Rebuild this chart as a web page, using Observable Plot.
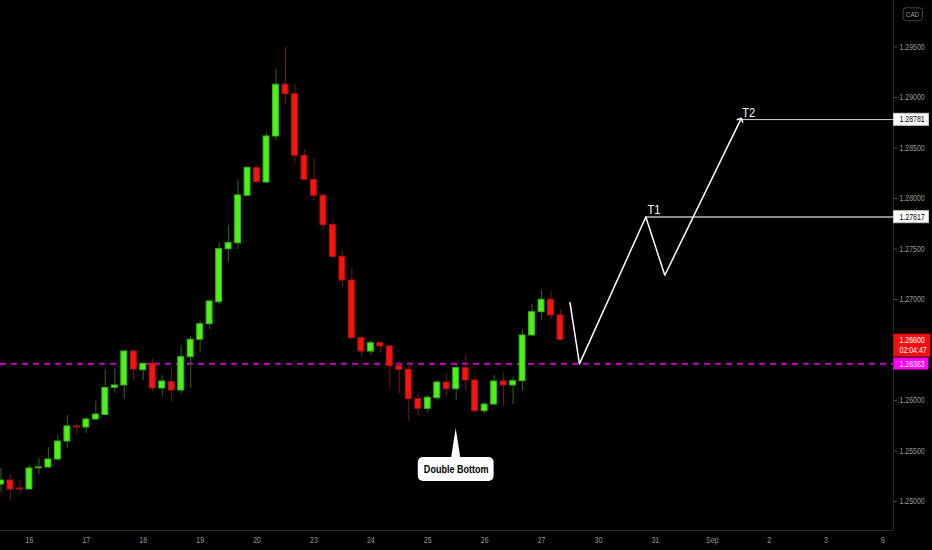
<!DOCTYPE html>
<html>
<head>
<meta charset="utf-8">
<script src="https://cdn.jsdelivr.net/npm/d3@7"></script>
<script src="https://cdn.jsdelivr.net/npm/@observablehq/plot@0.6"></script>
<style>
  html, body { margin: 0; padding: 0; background: #000; }
  #chart svg { display: block; }
</style>
</head>
<body>
<div id="chart"></div>
<script>
// ---- 4h candles, USDCAD (index 0 = first visible candle) ----
const opens = [
  1.25168,1.25208,1.25129,1.25119,1.25330,1.25337,1.25416,1.25594,1.25743,1.25733,
  1.25812,1.25856,1.26126,1.26149,1.26485,1.26300,1.26363,1.26119,1.26181,1.26099,
  1.26429,1.26601,1.26755,1.26973,1.27498,1.27557,1.28027,1.28300,1.28158,1.28614,
  1.29126,1.29033,1.28423,1.28185,1.28027,1.27736,1.27423,1.27188,1.26617,1.26485,
  1.26567,1.26535,1.26340,1.26304,1.26013,1.25918,1.26023,1.26178,1.26112,1.26320,
  1.26198,1.25894,1.25960,1.26188,1.26149,1.26191,1.26644,1.26874,1.26997,1.26842
];
const highs = [
  1.25327,1.25267,1.25208,1.25356,1.25426,1.25535,1.25653,1.25851,1.25772,1.25832,
  1.25990,1.26307,1.26307,1.26495,1.26495,1.26366,1.26419,1.26248,1.26330,1.26538,
  1.26634,1.26785,1.26997,1.27557,1.27733,1.28185,1.28310,1.28334,1.28647,1.29280,
  1.29498,1.29126,1.28475,1.28393,1.28053,1.27789,1.27475,1.27307,1.26641,1.26594,
  1.26584,1.26545,1.26379,1.26379,1.26066,1.26050,1.26198,1.26264,1.26347,1.26446,
  1.26231,1.25983,1.26248,1.26270,1.26231,1.26700,1.26957,1.27089,1.27079,1.26891
];
const lows = [
  1.25089,1.25010,1.25069,1.25114,1.25267,1.25327,1.25396,1.25525,1.25663,1.25673,
  1.25802,1.25851,1.26069,1.26010,1.26198,1.26198,1.26086,1.26040,1.25983,1.26066,
  1.26119,1.26478,1.26700,1.26950,1.27369,1.27492,1.28027,1.28151,1.28146,1.28574,
  1.28938,1.28350,1.28178,1.27980,1.27693,1.27403,1.27122,1.26594,1.26429,1.26446,
  1.26468,1.26122,1.26066,1.25792,1.25851,1.25874,1.25993,1.26033,1.26000,1.26099,
  1.25868,1.25868,1.25950,1.25941,1.25960,1.26099,1.26634,1.26792,1.26799,1.26594
];
const closes = [
  1.25208,1.25119,1.25119,1.25327,1.25337,1.25416,1.25594,1.25743,1.25733,1.25812,
  1.25861,1.26124,1.26149,1.26485,1.26307,1.26363,1.26119,1.26188,1.26099,1.26429,
  1.26601,1.26755,1.26980,1.27498,1.27557,1.28030,1.28304,1.28161,1.28614,1.29126,
  1.29033,1.28423,1.28185,1.28027,1.27736,1.27423,1.27188,1.26617,1.26485,1.26567,
  1.26535,1.26340,1.26304,1.26013,1.25918,1.26027,1.26178,1.26112,1.26320,1.26198,
  1.25894,1.25960,1.26188,1.26149,1.26191,1.26644,1.26874,1.26997,1.26842,1.26600
];

// ---- axes ----
const dayTickIndex  = [3, 9, 15, 21, 27, 33, 39, 45, 51, 57, 63, 69, 75, 81, 87, 93];
const dayTickLabels = ["16","17","18","19","20","23","24","25","26","27","30","31","Sep","2","3","6"];
// 1.26500 sits behind the last-price badge in the reference, so it is not labelled
const priceTicks = [1.25, 1.255, 1.26, 1.27, 1.275, 1.28, 1.285, 1.29, 1.295];
const xDomain = [-0.053, 94.116];
const yDomain = [1.24713, 1.29960];

// ---- annotations ----
const supportLevel = 1.26363;
const lastPrice = 1.26600;
const countdown = "02:04:47";
const targetNames  = ["T1", "T2"];
const targetIndex  = [68, 78];
const targetPrices = [1.27817, 1.28781];
const projIndex = [60, 61, 68, 70, 78];
const projPrice = [1.2697, 1.26363, 1.27817, 1.2724, 1.28781];
const calloutLabel = "Double Bottom";
const calloutIndex = 48;
const calloutPrice = 1.25723;
const currency = "CAD";

const candles = opens.map((o, i) => ({
  i, open: o, high: highs[i], low: lows[i], close: closes[i], up: closes[i] >= o
}));
const targets = targetNames.map((name, k) => ({name, i: targetIndex[k], price: targetPrices[k]}));
const projection = projIndex.map((i, k) => ({i, price: projPrice[k]}));

const upFill = "#4cf01a", upStroke = "#38b814", upWick = "#2d6a16";
const dnFill = "#f5150f", dnStroke = "#b51010", dnWick = "#7a1414";
const FONT = "'Liberation Sans', Arial, sans-serif";

const chart = Plot.plot({
  width: 932,
  height: 550,
  marginLeft: 0,
  marginRight: 39,
  marginTop: 0,
  marginBottom: 20,
  style: {background: "#000", color: "#9a9a9a", fontFamily: FONT, fontSize: "8px"},
  x: {type: "linear", domain: xDomain, axis: null, label: null},
  y: {type: "linear", domain: yDomain, axis: null, label: null},
  marks: [
    Plot.ruleX([xDomain[1]], {stroke: "#2a2a2a"}),
    Plot.ruleY([yDomain[0]], {stroke: "#2a2a2a"}),
    Plot.axisY(priceTicks, {
      anchor: "right", tickSize: 3, tickPadding: 3, stroke: "#555", fill: "#9a9a9a",
      tickFormat: d => d.toFixed(5), fontSize: 8.5
    }),
    Plot.axisX(dayTickIndex, {
      anchor: "bottom", tickSize: 0, tickPadding: 6, fill: "#9a9a9a", fontSize: 8.5,
      tickFormat: d => dayTickLabels[dayTickIndex.indexOf(d)]
    }),
    Plot.ruleY([supportLevel], {stroke: "#c800c8", strokeWidth: 2, strokeDasharray: "6,5"}),
    Plot.ruleX(candles, {x: "i", y1: "low", y2: "high", stroke: d => d.up ? upWick : dnWick}),
    Plot.rect(candles, {
      x1: d => d.i - 0.31, x2: d => d.i + 0.31, y1: "open", y2: "close",
      fill: d => d.up ? upFill : dnFill, stroke: d => d.up ? upStroke : dnStroke, strokeWidth: 1
    }),
    Plot.ruleY(targets, {
      y: "price", x1: "i", x2: () => xDomain[1],
      stroke: d => d.name === "T1" ? "#8c8c8c" : "#d4d4d4",
      strokeWidth: d => d.name === "T1" ? 2 : 1
    }),
    Plot.line(projection, {x: "i", y: "price", stroke: "#fff", strokeWidth: 1.5, markerEnd: "arrow"}),
    Plot.text(targets, {x: "i", y: "price", text: "name", dx: 8, dy: -7, fill: "#fff", fontSize: 13.5}),
    Plot.text([calloutLabel], {
      x: () => calloutIndex, y: () => calloutPrice, text: d => d, dy: 41,
      fill: "#000", fontWeight: "bold", fontSize: 11, className: "callout"
    }),
    Plot.text(targets, {
      x: () => xDomain[1], y: "price", text: d => d.price.toFixed(5), dx: 6,
      textAnchor: "start", fill: "#000", fontSize: 8.5, className: "lblwhite"
    }),
    Plot.text([supportLevel], {
      x: () => xDomain[1], y: d => d, text: d => d.toFixed(5), dx: 6,
      textAnchor: "start", fill: "#fff", fontSize: 8.5, className: "lblmagenta"
    }),
    Plot.text([lastPrice], {
      x: () => xDomain[1], y: d => d, text: d => d.toFixed(5) + "\n" + countdown, dx: 6, dy: 5,
      lineHeight: 1.2, textAnchor: "start", fill: "#fff", fontSize: 8.5, className: "lblred"
    }),
    Plot.text([currency], {
      frameAnchor: "top-right", text: d => d, dx: 19, dy: 11, textAnchor: "middle",
      fill: "#a0a0a0", fontSize: 7.5, className: "lblcad"
    })
  ]
});

document.getElementById("chart").append(chart);

// ---- narrow the glyphs (the reference uses a condensed UI face) ----
function condense(el, f) {
  const spans = el.querySelectorAll("tspan");
  const list = spans.length ? Array.from(spans) : [el];
  list.forEach(t => {
    const len = t.getComputedTextLength();
    if (len > 0) {
      t.setAttribute("textLength", (len * f).toFixed(2));
      t.setAttribute("lengthAdjust", "spacingAndGlyphs");
    }
  });
}
chart.querySelectorAll("text").forEach(t => condense(t, 0.82));

// ---- backgrounds behind text annotations ----
const NS = "http://www.w3.org/2000/svg";
const svgRect = chart.getBoundingClientRect();
const sx = chart.scale("x"), sy = chart.scale("y");
const axisX = sx.apply(xDomain[1]);

function boxes(cls, {fill, stroke = "none", h, padR = 3.5, left = null, padL = 3, rx = 0}) {
  const g = chart.querySelector(`g.${cls}`);
  if (!g) return;
  g.querySelectorAll("text").forEach(t => {
    const b = t.getBoundingClientRect();
    const cy = b.top - svgRect.top + b.height / 2;
    const x0 = left !== null ? left : b.left - svgRect.left - padL;
    const x1 = b.right - svgRect.left + padR;
    const r = document.createElementNS(NS, "rect");
    r.setAttribute("x", x0);
    r.setAttribute("y", cy - h / 2);
    r.setAttribute("width", x1 - x0);
    r.setAttribute("height", h);
    r.setAttribute("fill", fill);
    r.setAttribute("stroke", stroke);
    r.setAttribute("rx", rx);
    chart.insertBefore(r, g);
  });
}
boxes("lblwhite", {fill: "#fff", stroke: "#ccc", h: 12, left: axisX + 0.5});
boxes("lblmagenta", {fill: "#ff00ff", h: 12, left: axisX + 0.5});
boxes("lblred", {fill: "#f20f0f", h: 23, left: axisX + 0.5});
boxes("lblcad", {fill: "none", stroke: "#444", h: 13, padL: 3, padR: 3, rx: 3});

// callout bubble with pointer
(function () {
  const g = chart.querySelector("g.callout");
  const t = g.querySelector("text");
  const b = t.getBoundingClientRect();
  const cx = sx.apply(calloutIndex), tipY = sy.apply(calloutPrice);
  const cy = b.top - svgRect.top + b.height / 2;
  const w = (b.right - b.left) + 11, h = 24, r = 5, pw = 4.5;
  const l = cx - w / 2, rr = cx + w / 2, top = cy - h / 2, bot = cy + h / 2;
  const d = `M${l + r},${top} H${cx - pw} L${cx},${tipY} L${cx + pw},${top} H${rr - r}
    A${r},${r} 0 0 1 ${rr},${top + r} V${bot - r} A${r},${r} 0 0 1 ${rr - r},${bot}
    H${l + r} A${r},${r} 0 0 1 ${l},${bot - r} V${top + r} A${r},${r} 0 0 1 ${l + r},${top} Z`;
  const p = document.createElementNS(NS, "path");
  p.setAttribute("d", d);
  p.setAttribute("fill", "#fff");
  chart.insertBefore(p, g);
})();
</script>
</body>
</html>
